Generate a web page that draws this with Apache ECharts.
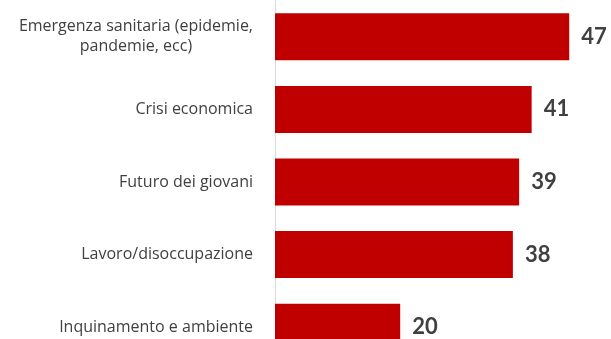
<!DOCTYPE html>
<html>
<head>
<meta charset="utf-8">
<script src="https://cdn.jsdelivr.net/npm/echarts@6/dist/echarts.min.js"></script>
<style>
  html, body { margin: 0; padding: 0; background: #ffffff; overflow: hidden; }
  /* the chart is taller than the page, so its last bar is cut by the bottom edge */
  #chart { width: 611px; height: 364px; }
</style>
</head>
<body>
<div id="chart"></div>
<script>
// Concerns ranked by share of respondents (%)
const categories = [
  'Emergenza sanitaria (epidemie,\npandemie, ecc)',
  'Crisi economica',
  'Futuro dei giovani',
  'Lavoro/disoccupazione',
  'Inquinamento e ambiente'
];
const values = [47, 41, 39, 38, 20];

const chart = echarts.init(document.getElementById('chart'), null, { renderer: 'canvas' });

chart.setOption({
  animation: false,
  backgroundColor: '#ffffff',
  grid: { left: 275, top: 0.5, right: 23, bottom: 0.5, containLabel: false },
  xAxis: {
    type: 'value',
    min: 0,
    max: 50,
    show: false
  },
  yAxis: {
    type: 'category',
    inverse: true,
    data: categories,
    offset: 2,
    axisLine: { show: true, lineStyle: { color: '#d9d9d9', width: 1 } },
    axisTick: { show: false },
    axisLabel: {
      margin: 20,
      color: '#404040',
      fontFamily: 'Open Sans',
      fontSize: 16,
      lineHeight: 20,
      formatter: function (v) {
        return v.split('\n').map(function (l) { return '{c|' + l + '}'; }).join('\n');
      },
      rich: {
        c: { align: 'center', color: '#404040', fontFamily: 'Open Sans', fontSize: 16, lineHeight: 20 }
      }
    }
  },
  series: [{
    type: 'bar',
    data: values,
    barWidth: 47,
    itemStyle: { color: '#c00000' },
    label: {
      show: true,
      position: 'right',
      distance: 12,
      color: '#404040',
      fontFamily: 'Lato',
      fontWeight: 'bold',
      fontSize: 22
    }
  }]
});
</script>
</body>
</html>
